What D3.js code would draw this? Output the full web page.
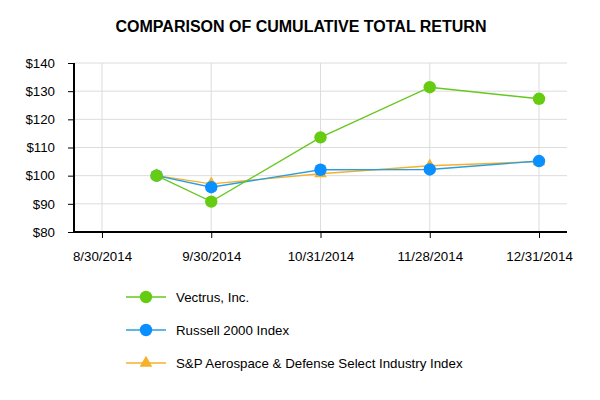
<!DOCTYPE html>
<html><head><meta charset="utf-8">
<script src="https://cdn.jsdelivr.net/npm/d3@7"></script>
<style>body{margin:0;background:#fff}</style>
</head><body>
<svg id="c" width="600" height="400"></svg>
<script>
const tickLabels = ["8/30/2014","9/30/2014","10/31/2014","11/28/2014","12/31/2014"];
// x position of each observation, in units of tick categories (first observation lies between first two ticks)
const obsPos = [0.5, 1, 2, 3, 4];
const vectrus = [100, 90.8, 113.6, 131.4, 127.3];
const russell = [100, 95.9, 102.1, 102.2, 105.2];
const spad    = [100, 97.1, 100.7, 103.5, 105.0];
const yTicks = [80, 90, 100, 110, 120, 130, 140];
const seriesNames = ["Vectrus, Inc.", "Russell 2000 Index", "S&P Aerospace & Defense Select Industry Index"];

const svg = d3.select("#c");
const L = 74, R = 567, T = 63, B = 232;
const x = d3.scaleLinear().domain([-0.256, 4.256]).range([L, R]);
const y = d3.scaleLinear().domain([80, 140]).range([B, T]);
const font = "'Liberation Sans', Arial, sans-serif";
const fs = 13.3;

svg.append("text").attr("x", 301).attr("y", 32).attr("text-anchor", "middle")
  .attr("font-family", font).attr("font-weight", "bold").attr("font-size", 16).text("COMPARISON OF CUMULATIVE TOTAL RETURN");

// grid
svg.append("g").selectAll("line").data(yTicks).join("line")
  .attr("x1", L).attr("x2", R).attr("y1", d => y(d)).attr("y2", d => y(d))
  .attr("stroke", "#dcdcdc").attr("stroke-width", 1);
svg.append("g").selectAll("line").data(tickLabels).join("line")
  .attr("x1", (d,i) => x(i)).attr("x2", (d,i) => x(i)).attr("y1", T).attr("y2", B)
  .attr("stroke", "#dcdcdc").attr("stroke-width", 1);

// axes
const yAxis = d3.axisLeft(y).tickValues(yTicks).tickFormat(d => "$" + d).tickSize(6).tickPadding(13);
const gy = svg.append("g").attr("transform", `translate(${L},0)`).call(yAxis);
gy.select(".domain").remove();
gy.selectAll("line").attr("stroke", "#000");
gy.selectAll("text").attr("font-family", font).attr("font-size", fs).attr("fill", "#000");
svg.append("line").attr("x1", L).attr("x2", L).attr("y1", T).attr("y2", B+1).attr("stroke", "#000").attr("stroke-width", 2);

const xAxis = d3.axisBottom(x).tickValues(d3.range(tickLabels.length)).tickFormat(i => tickLabels[i]).tickSize(6).tickPadding(14);
const gx = svg.append("g").attr("transform", `translate(0,${B})`).call(xAxis);
gx.select(".domain").remove();
gx.selectAll("line").attr("stroke", "#000");
gx.selectAll("text").attr("font-family", font).attr("font-size", fs).attr("fill", "#000");
svg.append("line").attr("x1", L-1).attr("x2", R).attr("y1", B).attr("y2", B).attr("stroke", "#000").attr("stroke-width", 2);

const series = [
  {name: seriesNames[2], vals: spad, color: "#f6b12a", marker: "tri"},
  {name: seriesNames[1], vals: russell, color: "#2a9fe0", mcolor: "#0a8fff", marker: "circle"},
  {name: seriesNames[0], vals: vectrus, color: "#66c81e", mcolor: "#66cc11", marker: "circle"}
];
const line = d3.line().x((d,i) => x(obsPos[i])).y(d => y(d));
const tri = d3.symbol().type(d3.symbolTriangle).size(70);

series.forEach(s => {
  svg.append("path").datum(s.vals).attr("d", line).attr("fill", "none").attr("stroke", s.color).attr("stroke-width", 1.4);
});
series.forEach(s => {
  const g = svg.append("g");
  if (s.marker === "circle") {
    g.selectAll("circle").data(s.vals).join("circle")
      .attr("cx", (d,i) => x(obsPos[i])).attr("cy", d => y(d)).attr("r", 6.2).attr("fill", s.mcolor);
  } else {
    g.selectAll("path").data(s.vals).join("path").attr("d", tri)
      .attr("transform", (d,i) => `translate(${x(obsPos[i])},${y(d)})`).attr("fill", s.color);
  }
});

// legend
const legend = [
  {name: seriesNames[0], color: "#66c81e", mcolor: "#66cc11", marker: "circle"},
  {name: seriesNames[1], color: "#2a9fe0", mcolor: "#0a8fff", marker: "circle"},
  {name: seriesNames[2], color: "#f6b12a", mcolor: "#f6b12a", marker: "tri"}
];
legend.forEach((s, i) => {
  const yy = 297 + i * 33;
  const g = svg.append("g");
  g.append("line").attr("x1", 126).attr("x2", 166).attr("y1", yy).attr("y2", yy).attr("stroke", s.color).attr("stroke-width", 1.6);
  if (s.marker === "circle") g.append("circle").attr("cx", 146).attr("cy", yy).attr("r", 6.2).attr("fill", s.mcolor);
  else g.append("path").attr("d", tri).attr("transform", `translate(146,${yy})`).attr("fill", s.mcolor);
  g.append("text").attr("x", 176).attr("y", yy + 5).attr("font-family", font).attr("font-size", fs).attr("fill", "#000").text(s.name);
});
</script>
</body></html>
